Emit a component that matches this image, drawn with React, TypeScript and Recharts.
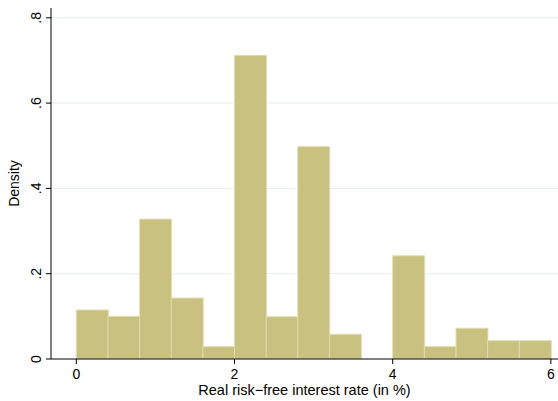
import React from "react";
import { BarChart, Bar, XAxis, YAxis, CartesianGrid, Label } from "recharts";

const binCenters = [0.2, 0.6, 1.0, 1.4, 1.8, 2.2, 2.6, 3.0, 3.4, 3.8, 4.2, 4.6, 5.0, 5.4, 5.8];
const densities: (number | null)[] = [0.115, 0.1, 0.328, 0.143, 0.029, 0.712, 0.099, 0.498, 0.058, null, 0.242, 0.029, 0.072, 0.043, 0.043];
const xTicks = [0, 2, 4, 6];
const yTicks = [0, 0.2, 0.4, 0.6, 0.8];
const gridValues = [0.2, 0.4, 0.6, 0.8];

const data = binCenters.map((x, i) => ({ x, density: densities[i] }));

const FONT = "'Liberation Sans', Arial, Helvetica, sans-serif";

const fmtY = (v: number) => (v === 0 ? "0" : String(v).replace(/^0/, ""));

const XTick = (props: any) => {
  const { x, y, payload } = props;
  return (
    <text x={x} y={y} dy={13} textAnchor="middle" fontFamily={FONT} fontSize={14} fill="#000">
      {payload.value}
    </text>
  );
};

const YTick = (props: any) => {
  const { x, y, payload } = props;
  const bx = x - 3;
  return (
    <text
      x={bx}
      y={y}
      transform={`rotate(-90 ${bx} ${y})`}
      textAnchor="middle"
      fontFamily={FONT}
      fontSize={14}
      fill="#000"
    >
      {fmtY(payload.value)}
    </text>
  );
};

export default function App() {
  return (
    <div style={{ position: "absolute", left: 0, top: 0, width: 558, height: 401, background: "#fff" }}>
      <BarChart
        width={558}
        height={401}
        data={data}
        margin={{ top: 8, right: 0, bottom: 0, left: 0 }}
        barCategoryGap={0}
        barGap={0}
      >
        <CartesianGrid
          horizontal
          vertical={false}
          horizontalValues={gridValues}
          stroke="#e6eeef"
          strokeWidth={1}
        />
        <XAxis
          type="number"
          dataKey="x"
          domain={[-0.32, 6.09]}
          allowDataOverflow
          ticks={xTicks}
          tickSize={5}
          height={42}
          axisLine={{ stroke: "#000" }}
          tickLine={{ stroke: "#000" }}
          tick={<XTick />}
          interval={0}
        >
          <Label
            value="Real risk−free interest rate (in %)"
            position="insideBottom"
            offset={6}
            style={{ fontFamily: FONT, fontSize: 14.5, fill: "#000" }}
          />
        </XAxis>
        <YAxis
          type="number"
          domain={[0, 0.823]}
          allowDataOverflow
          ticks={yTicks}
          tickSize={5}
          width={51}
          axisLine={{ stroke: "#000" }}
          tickLine={{ stroke: "#000" }}
          tick={<YTick />}
          interval={0}
        >
          <Label
            value="Density"
            angle={-90}
            position="insideLeft"
            offset={14}
            style={{ fontFamily: FONT, fontSize: 14, fill: "#000", textAnchor: "middle" }}
          />
        </YAxis>
        <Bar
          dataKey="density"
          fill="#c8c180"
          stroke="#e2ddb2"
          strokeWidth={1}
          isAnimationActive={false}
        />
      </BarChart>
    </div>
  );
}
